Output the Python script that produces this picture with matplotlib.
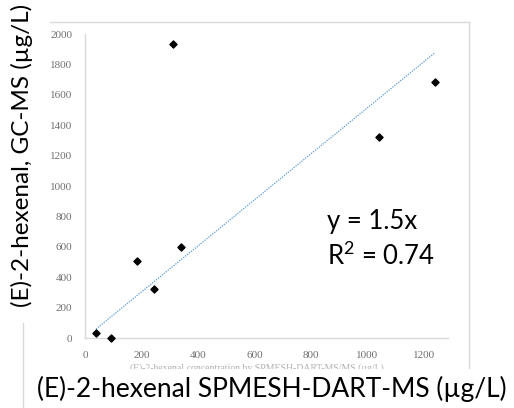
import numpy as np
import matplotlib
matplotlib.use("Agg")
import matplotlib.pyplot as plt
from matplotlib.lines import Line2D

# values
dart_ms = [39, 92, 184, 245, 313, 341, 1041, 1239]
gc_ms = [33, 0, 508, 322, 1936, 600, 1322, 1686]
x_ticks = [0, 200, 400, 600, 800, 1000, 1200]
y_ticks = [0, 200, 400, 600, 800, 1000, 1200, 1400, 1600, 1800, 2000]

x = np.array(dart_ms, dtype=float)
y = np.array(gc_ms, dtype=float)
slope = np.sum(x * y) / np.sum(x * x)  # trendline through origin

plt.rcParams['mathtext.fontset'] = 'custom'
plt.rcParams['mathtext.rm'] = 'Lato'
plt.rcParams['mathtext.it'] = 'Lato'

fig = plt.figure(figsize=(5.14, 4.08), dpi=100)
ax = fig.add_axes([85 / 514, 1 - 338 / 408, (448 - 85) / 514, (338 - 34) / 408])

ax.scatter(x, y, marker='D', s=13, color='black', zorder=3, clip_on=False)
xs = np.array([x.min(), x.max()])
ax.plot(xs, slope * xs, color='#5b9bd5', linestyle=(0, (1, 1)), linewidth=0.9)

ax.set_xlim(0, 1285)
ax.set_ylim(0, 2000)
ax.set_xticks(x_ticks)
ax.set_yticks(y_ticks)
for s in ['top', 'right']:
    ax.spines[s].set_visible(False)
for s in ['left', 'bottom']:
    ax.spines[s].set_color('#d9d9d9')
    ax.spines[s].set_linewidth(1.0)
ax.tick_params(length=0, pad=9, labelsize=8, labelcolor='#707070')
for lab in ax.get_xticklabels() + ax.get_yticklabels():
    lab.set_family('Liberation Serif')

fig.text(327 / 514, 1 - 229 / 408, 'y = 1.5x', fontsize=18.5, family='Lato', va='baseline')
fig.text(327 / 514, 1 - 265 / 408, r'R$\mathregular{^2}$ = 0.74', fontsize=18.5, family='Lato',
         va='baseline')

# faint original axis title, mostly hidden
fig.text(0.5, 1 - 368 / 408, '(E)-2-hexenal concentration by SPMESH-DART-MS/MS (µg/L)',
         ha='center', va='center', fontsize=7, color='#b0b0b0', family='Liberation Serif', zorder=1)
fig.patches.append(plt.Rectangle((0, 0), 1, 1 - 369 / 408, transform=fig.transFigure,
                                 facecolor='white', edgecolor='none', zorder=2))

# light frame of the pasted chart
gray = '#d9d9d9'
fig.lines.append(Line2D([50 / 514, 469 / 514], [1 - 22 / 408] * 2, transform=fig.transFigure, color=gray, lw=1))
fig.lines.append(Line2D([469 / 514] * 2, [1 - 22 / 408, 1 - 368 / 408], transform=fig.transFigure, color=gray, lw=1))
fig.lines.append(Line2D([23 / 514] * 2, [1 - 323 / 408, 0], transform=fig.transFigure, color=gray, lw=1, zorder=3))

fig.text(22 / 514, 1 - 155 / 408, '(E)-2-hexenal, GC-MS (µg/L)', rotation=90,
         ha='center', va='center', fontsize=17.5, family='Lato', zorder=4)
fig.text(272 / 514, 1 - 389 / 408, '(E)-2-hexenal SPMESH-DART-MS (µg/L)',
         ha='center', va='center', fontsize=19, family='Lato', zorder=4)

fig.savefig('out.png', dpi=100)
